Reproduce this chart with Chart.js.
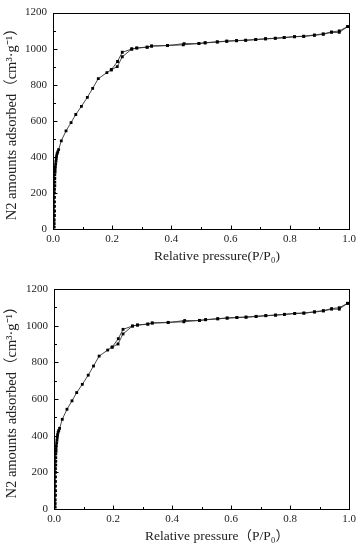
<!DOCTYPE html>
<html>
<head>
<meta charset="utf-8">
<script src="https://cdn.jsdelivr.net/npm/chart.js@4/dist/chart.umd.min.js"></script>
<style>
  body { margin: 0; background: #fff; }
  .panel { width: 362px; height: 275px; position: relative; }
  canvas { display: block; }
</style>
</head>
<body>
<div class="panel"><canvas id="chartTop" width="362" height="275"></canvas></div>
<div class="panel"><canvas id="chartBottom" width="362" height="275"></canvas></div>
<script>
// N2 isotherm - adsorption branch
const pressureAds = [0.004, 0.004, 0.004, 0.005, 0.005, 0.005, 0.005, 0.005, 0.005, 0.005, 0.006, 0.006, 0.006,
  0.006, 0.007, 0.007, 0.008, 0.009, 0.010, 0.011, 0.012, 0.014, 0.016, 0.019, 0.028,
  0.044, 0.061, 0.077, 0.096, 0.116, 0.134, 0.153, 0.182, 0.197, 0.217, 0.234, 0.266, 0.283, 0.318, 0.333, 0.387,
  0.440, 0.493, 0.514, 0.555, 0.587, 0.620, 0.651, 0.685, 0.718, 0.751, 0.781, 0.816, 0.847, 0.883, 0.913, 0.941,
  0.967, 0.995];
const volumeAds = [10, 30, 50, 75, 100, 125, 150, 175, 200, 220, 240, 260, 280,
  300, 315, 330, 345, 360, 375, 390, 405, 418, 428, 440, 489,
  544, 590, 635, 680, 730, 780, 834, 867, 883, 900, 955, 998, 1004, 1009, 1015, 1018,
  1021, 1029, 1033, 1038, 1042, 1045, 1047, 1051, 1055, 1058, 1062, 1067, 1069, 1076, 1082, 1093,
  1098, 1122];

// desorption branch
const pressureDes = [0.995, 0.967, 0.941, 0.913, 0.883, 0.847, 0.816, 0.781, 0.751, 0.718, 0.685, 0.651, 0.620,
  0.587, 0.555, 0.514, 0.493, 0.443, 0.387, 0.333, 0.318, 0.283, 0.266, 0.234, 0.218, 0.197];
const volumeDes = [1122, 1090, 1090, 1080, 1074, 1068, 1066, 1061, 1057, 1054, 1050, 1046, 1044,
  1041, 1037, 1032, 1028, 1028, 1017, 1014, 1008, 1003, 998, 980, 929, 883];

// axes
const xTicks = [0, 0.2, 0.4, 0.6, 0.8, 1.0];
const xMinorTicks = [0.1, 0.3, 0.5, 0.7, 0.9];
const yTicks = [0, 200, 400, 600, 800, 1000, 1200];
const yMinorTicks = [100, 300, 500, 700, 900, 1100];

const yTitle = 'N2 amounts adsorbed（cm³·g⁻¹）';
const xTitleTop = 'Relative pressure(P/P₀)';
const xTitleBottom = 'Relative pressure（P/P₀）';

const FONT = "'Liberation Serif', 'Noto Sans CJK SC', serif";

const pairs = (xs, ys) => xs.map((x, i) => ({ x: x, y: ys[i] }));

// frame + inward ticks + x title
const boxTicks = {
  id: 'boxTicks',
  afterDraw(chart, args, opts) {
    const { ctx, chartArea: a, scales: { x, y } } = chart;
    ctx.save();
    ctx.strokeStyle = '#000';
    ctx.lineWidth = 1;
    ctx.strokeRect(Math.round(a.left) + 0.5, Math.round(a.top) + 0.5,
      Math.round(a.right - a.left), Math.round(a.bottom - a.top));
    const b = Math.round(a.bottom) + 0.5;
    const l = Math.round(a.left) + 0.5;
    ctx.beginPath();
    xTicks.forEach(v => { const px = Math.round(x.getPixelForValue(v)) + 0.5; ctx.moveTo(px, b); ctx.lineTo(px, b - 4); });
    xMinorTicks.forEach(v => { const px = Math.round(x.getPixelForValue(v)) + 0.5; ctx.moveTo(px, b); ctx.lineTo(px, b - 2.5); });
    yTicks.forEach(v => { const py = Math.round(y.getPixelForValue(v)) + 0.5; ctx.moveTo(l, py); ctx.lineTo(l + 4, py); });
    yMinorTicks.forEach(v => { const py = Math.round(y.getPixelForValue(v)) + 0.5; ctx.moveTo(l, py); ctx.lineTo(l + 2.5, py); });
    ctx.stroke();

    ctx.fillStyle = '#222';
    ctx.font = '13.5px ' + FONT;
    ctx.textAlign = 'center';
    ctx.textBaseline = 'middle';
    ctx.fillText(opts.text, opts.cx, opts.cy);
    ctx.restore();
  }
};

const makeChart = (id, cfg) => {
  const seriesStyle = {
    showLine: true,
    borderColor: '#333',
    borderWidth: 0.9,
    pointStyle: 'rect',
    pointRadius: 2,
    pointBackgroundColor: '#000',
    pointBorderColor: '#000',
    pointBorderWidth: 0,
    tension: 0
  };
  return new Chart(document.getElementById(id), {
    type: 'scatter',
    data: {
      datasets: [
        Object.assign({ label: 'Adsorption', data: pairs(pressureAds, volumeAds) }, seriesStyle),
        Object.assign({ label: 'Desorption', data: pairs(pressureDes, volumeDes) }, seriesStyle)
      ]
    },
    options: {
      responsive: false,
      animation: false,
      layout: { padding: { top: cfg.top, right: 13, left: 0, bottom: 0 } },
      plugins: {
        legend: { display: false },
        tooltip: { enabled: false },
        boxTicks: { text: cfg.xTitle, cx: 217, cy: cfg.xTitleY }
      },
      scales: {
        x: {
          type: 'linear', min: 0, max: 1,
          grid: { display: false, drawTicks: false },
          border: { display: false },
          afterFit: s => { s.height = cfg.xHeight; },
          ticks: {
            stepSize: 0.2, padding: 4, color: '#222', maxRotation: 0,
            font: { family: FONT, size: 11 },
            callback: v => Number(v).toFixed(1)
          }
        },
        y: {
          type: 'linear', min: 0, max: 1200,
          grid: { display: false, drawTicks: false },
          border: { display: false },
          afterFit: s => { s.width = cfg.left; },
          ticks: {
            stepSize: 200, padding: 6, color: '#222',
            font: { family: FONT, size: 11 },
            callback: v => String(v)
          },
          title: {
            display: true, text: yTitle, color: '#222',
            font: { family: FONT, size: 14.5 },
            padding: { top: 3, bottom: 0 }
          }
        }
      }
    },
    plugins: [boxTicks]
  });
};

makeChart('chartTop', { top: 9, left: 53, xHeight: 46, xTitle: xTitleTop, xTitleY: 256 });
makeChart('chartBottom', { top: 14, left: 54, xHeight: 41, xTitle: xTitleBottom, xTitleY: 261 });
</script>
</body>
</html>
